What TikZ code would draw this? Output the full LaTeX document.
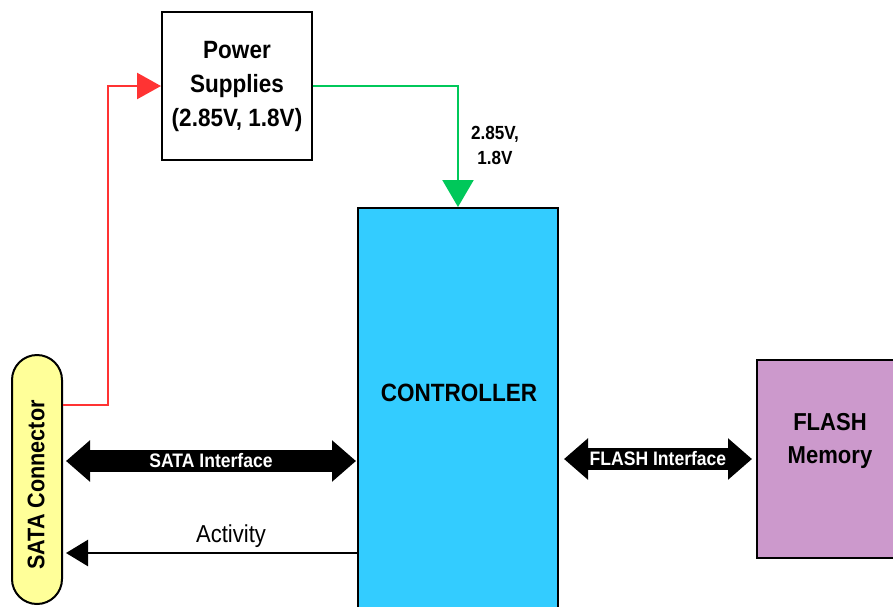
\documentclass[tikz,border=0pt]{standalone}
\usepackage{fontspec}
\setmainfont{Liberation Sans}[FakeStretch=0.9]
\usetikzlibrary{arrows.meta,calc}
\definecolor{ctrlblue}{RGB}{51,204,255}
\definecolor{flashpink}{RGB}{204,153,204}
\definecolor{sataylw}{RGB}{255,255,153}
\definecolor{pwrred}{RGB}{255,51,51}
\definecolor{pwrgreen}{RGB}{0,200,90}
\tikzset{
  blockbox/.style={draw=black, line width=2pt, inner sep=0pt, align=center},
  bigtxt/.style={font=\bfseries\fontsize{24.5}{33}\selectfont, align=center},
  fatarrow/.style={line width=22pt, {Triangle[length=24pt,width=40pt]}-{Triangle[length=24pt,width=40pt]}},
  fatlabel/.style={text=white, font=\bfseries\fontsize{19.5}{22}\selectfont},
  thinarrow/.style={line width=2.5pt, -{Triangle[length=22pt,width=26pt]}},
}
\begin{document}
\begin{tikzpicture}[x=1pt,y=-1pt]
\useasboundingbox (0,0) rectangle (893,606);
\fill[white] (0,0) rectangle (893,606);
% blocks
\node[blockbox, minimum width=150pt, minimum height=148pt, font=\bfseries\fontsize{25}{34}\selectfont] (ps) at (237,86) {Power\\Supplies\\(2.85V, 1.8V)};
\node[blockbox, fill=ctrlblue, minimum width=200pt, minimum height=412pt] (ctrl) at (458,414) {};
\node[font=\bfseries\fontsize{25}{28}\selectfont] (ctrltxt) at (459,393) {CONTROLLER};
\node[blockbox, fill=flashpink, minimum width=146pt, minimum height=198pt] (flash) at (830,459) {};
\node[bigtxt] (flashtxt) at (830,441) {FLASH\\Memory};
\node[blockbox, fill=sataylw, minimum width=50pt, minimum height=249pt, rounded corners=25pt] (sata) at (37,479.5) {};
\node[font=\bfseries\fontsize{24}{28}\selectfont, rotate=90] (satatxt) at (36,485) {SATA Connector};
% power connectors
\coordinate (rstart) at (sata.east |- 0,405);
\draw[pwrred, line width=2.5pt, -{Triangle[length=24pt,width=26pt]}] (rstart) -- (108,405) |- (ps.west);
\draw[pwrgreen, line width=2.2pt, -{Triangle[length=27pt,width=31pt]}] (ps.east) -| (ctrl.north);
\node[font=\bfseries\fontsize{19}{25}\selectfont, align=center] (vlbl) at (495,145) {2.85V,\\1.8V};
% interfaces
\coordinate (sa1) at ($(sata.east |- 0,461)+(3,0)$);
\coordinate (sa2) at ($(ctrl.west |- 0,461)+(-1,0)$);
\draw[fatarrow] (sa1) -- (sa2) node[midway, fatlabel] (satalbl) {SATA Interface};
\coordinate (fl1) at ($(ctrl.east |- 0,459)+(5,0)$);
\coordinate (fl2) at ($(flash.west |- 0,459)+(-4,0)$);
\draw[fatarrow] (fl1) -- (fl2) node[midway, fatlabel] (flashlbl) {FLASH Interface};
% activity
\coordinate (ac1) at (ctrl.west |- 0,553);
\coordinate (ac2) at ($(sata.east |- 0,553)+(3,0)$);
\draw[thinarrow] (ac1) -- (ac2);
\node[font=\fontsize{24.5}{28}\selectfont] (actlbl) at (231,536) {Activity};
\end{tikzpicture}
\end{document}
